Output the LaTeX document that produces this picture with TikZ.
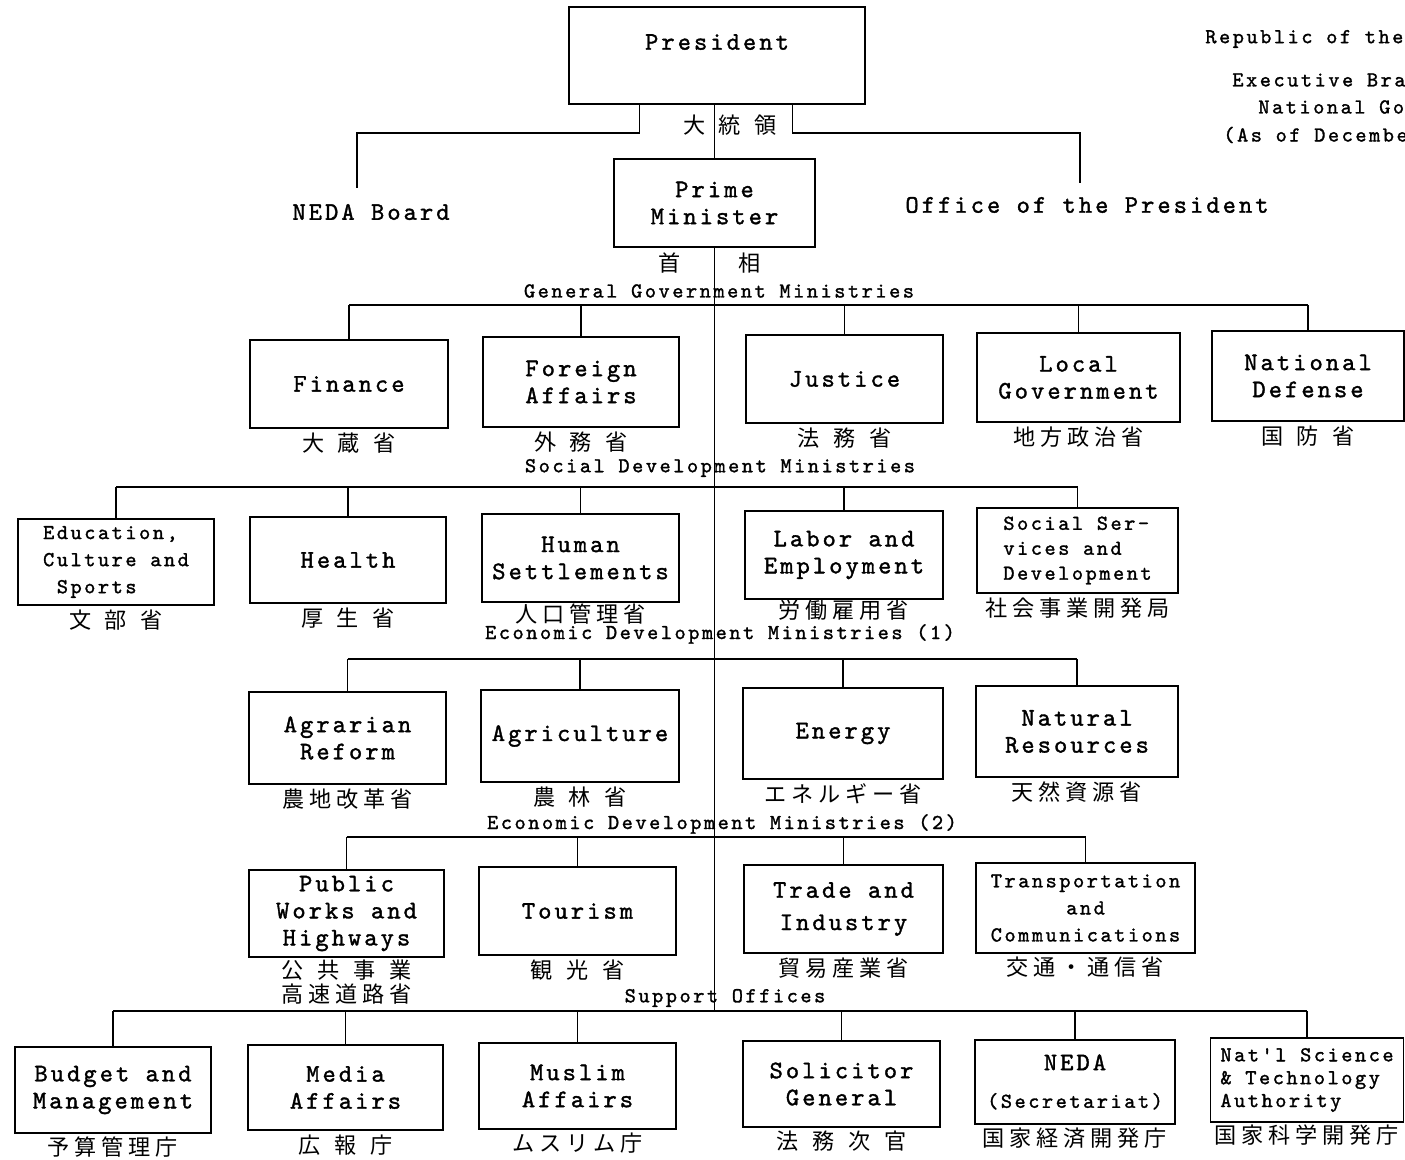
\documentclass[tikz,border=0pt]{standalone}
\usepackage{fontspec}
\usetikzlibrary{positioning, calc}
\newfontfamily\twfont{lmmono10-regular.otf}[LetterSpace=12, FakeBold=1.4]
\newfontfamily\jpfont{Noto Sans CJK JP}[LetterSpace=22]
\newcommand\bigtw{\twfont\fontsize{14.4pt}{15.4pt}\selectfont}
\newcommand\smalltw{\twfont\fontsize{12.1pt}{15.4pt}\selectfont}
\newcommand\jptext{\jpfont\fontsize{12.6pt}{13.6pt}\selectfont}
\newcommand\ksp{\hspace{0.62em}}

\tikzset{
  ministry/.style={draw, line width=1.1pt, inner sep=0pt, align=center, font=\bigtw},
  wh/.style 2 args={minimum width=#1*0.02cm, minimum height=#2*0.02cm},
  kanji/.style={inner sep=0pt, align=center, font=\jptext},
  sectlabel/.style={inner sep=0pt, font=\smalltw},
  link/.style={line width=0.9pt},
}

\begin{document}
\begin{tikzpicture}[x=0.02cm, y=-0.02cm]
\useasboundingbox (0,0) rectangle (1405,1159);
\clip (0,0) rectangle (1405,1159);

%--- Title block (top right, runs off the page)
\node[sectlabel, anchor=west] (rep)  at (1205,39)  {Republic of the};
\node[sectlabel, anchor=west] (exe)  at (1232,80)  {Executive Bra};
\node[sectlabel, anchor=west] (natg) at (1258,107) {National Go};
\node[sectlabel, anchor=west] (asof) at (1223,135) {(As of Decembe};

%--- President and Prime Minister
\node[ministry, wh={296}{97}] (pres) at (717,55.5) {President\\\mbox{}};
\node[kanji] (presj) at (730,125) {大\ksp 統\ksp 領};
\node[ministry, wh={201}{88}] (pm) at (714.5,203) {Prime\\Minister};
\node[kanji] (pmj1) at (670,263) {首};
\node[kanji] (pmj2) at (750,263) {相};

\node[inner sep=0pt, font=\bigtw] (nedab)  at (371,212)  {NEDA Board};
\node[inner sep=0pt, font=\bigtw] (office) at (1087,205) {Office of the President};

\coordinate (nbend) at (357,133);
\coordinate (nend)  at (357,188);
\coordinate (obend) at (1080,133);
\coordinate (oend)  at (1080,183);
\draw[link] ($(pres.south west)!0.24!(pres.south east)$) |- (nbend) -- (nend);
\draw[link] ($(pres.south west)!0.753!(pres.south east)$) |- (obend) -- (oend);

%--- bus lines (y only)
\coordinate (gbus)  at (0,305);
\coordinate (sbus)  at (0,487);
\coordinate (e1bus) at (0,659);
\coordinate (e2bus) at (0,837);
\coordinate (obus)  at (0,1011);

%--- Spine
\draw[link] (pres.south -| pm.north) -- (pm.north);
\draw[link] (pm.south) -- (pm.south |- obus);

%=== GENERAL GOVERNMENT MINISTRIES ===
\node[sectlabel] (ggm) at (719,291) {General Government Ministries};

\node[ministry, wh={198}{88}] (fin)  at (349,384)     {Finance};
\node[ministry, wh={196}{90}] (frn)  at (581,382)     {Foreign\\Affairs};
\node[ministry, wh={197}{88}] (jus)  at (844.5,379)   {Justice};
\node[ministry, wh={203}{89}] (locg) at (1078.5,377.5) {Local\\Government};
\node[ministry, wh={192}{90}] (def)  at (1308,376)    {National\\Defense};

\node[kanji, below=2pt of fin]  (finj)  {大\ksp 蔵\ksp 省};
\node[kanji, below=2pt of frn]  (frnj)  {外\ksp 務\ksp 省};
\node[kanji, below=2pt of jus]  (jusj)  {法\ksp 務\ksp 省};
\node[kanji, below=2pt of locg] (locgj) {地方政治省};
\node[kanji, below=2pt of def]  (defj)  {国\ksp 防\ksp 省};

\draw[link] (fin.north |- gbus) -- (def.north |- gbus);
\foreach \m in {fin,frn,jus,locg,def} {
  \draw[link] (\m.north) -- (\m.north |- gbus);
}

%=== SOCIAL DEVELOPMENT MINISTRIES ===
\node[sectlabel] (sdm) at (720,468) {Social Development Ministries};

\node[ministry, wh={196}{86}, font=\smalltw, align=left] (edu) at (116,562)
  {Education,\\Culture and\\\hspace*{7.8pt}Sports};
\node[ministry, wh={196}{86}] (hea) at (348,560)   {Health};
\node[ministry, wh={197}{88}] (hum) at (580.5,558) {Human\\Settlements};
\node[ministry, wh={198}{88}] (lab) at (844,555)   {Labor and\\Employment};
\node[ministry, wh={201}{85}, font={\twfont\fontsize{12.1pt}{14.2pt}\selectfont}, align=left]
  (ssd) at (1077.5,550.5) {Social Ser-\\vices and\\Development};

\node[kanji, below=2pt of edu] (eduj) {文\ksp 部\ksp 省};
\node[kanji, below=2pt of hea] (heaj) {厚\ksp 生\ksp 省};
\node[kanji, below=0pt of hum] (humj) {人口管理省};
\node[kanji, below=0pt of lab] (labj) {労働雇用省};
\node[kanji, below=2pt of ssd] (ssdj) {社会事業開発局};

\draw[link] (edu.north |- sbus) -- (ssd.north |- sbus);
\foreach \m in {edu,hea,hum,lab,ssd} {
  \draw[link] (\m.north) -- (\m.north |- sbus);
}

%=== ECONOMIC DEVELOPMENT MINISTRIES (1) ===
\node[sectlabel] (edm1) at (720,634) {Economic Development Ministries (1)};

\node[ministry, wh={197}{92}] (agr)  at (347.5,738)  {Agrarian\\Reform};
\node[ministry, wh={198}{92}] (agri) at (580,736)    {Agriculture};
\node[ministry, wh={200}{91}] (ene)  at (843,733.5)  {Energy};
\node[ministry, wh={202}{91}] (natr) at (1077,731.5) {Natural\\Resources};

\node[kanji, below=2pt of agr]  (agrj)  {農地改革省};
\node[kanji, below=2pt of agri] (agrij) {農\ksp 林\ksp 省};
\node[kanji, below=2pt of ene]  (enej)  {エネルギー省};
\node[kanji, below=2pt of natr] (natrj) {天然資源省};

\draw[link] (agr.north |- e1bus) -- (natr.north |- e1bus);
\foreach \m in {agr,agri,ene,natr} {
  \draw[link] (\m.north) -- (\m.north |- e1bus);
}

%=== ECONOMIC DEVELOPMENT MINISTRIES (2) ===
\node[sectlabel] (edm2) at (722,824) {Economic Development Ministries (2)};

\node[ministry, wh={195}{87}] (pwh) at (346.5,913.5) {Public\\Works and\\Highways};
\node[ministry, wh={197}{88}] (tou) at (577.5,911)   {Tourism};
\node[ministry, wh={199}{88}] (tin) at (843.5,909)   {Trade and\\[3pt]Industry};
\node[ministry, wh={219}{90}, font=\smalltw] (trc) at (1085.5,908)
  {Transportation\\and\\Communications};

\node[kanji, below=1pt of pwh] (pwhj) {公\ksp 共\ksp 事\ksp 業\\高速道路省};
\node[kanji, below=2pt of tou] (touj) {観\ksp 光\ksp 省};
\node[kanji, below=2pt of tin] (tinj) {貿易産業省};
\node[kanji, below=1.5pt of trc] (trcj) {交通・通信省};

\draw[link] (pwh.north |- e2bus) -- (trc.north |- e2bus);
\foreach \m in {pwh,tou,tin,trc} {
  \draw[link] (\m.north) -- (\m.north |- e2bus);
}

%=== SUPPORT OFFICES ===
\node[sectlabel] (supo) at (725,998) {Support Offices};

\node[ministry, wh={196}{86}] (bud)  at (113,1090)    {Budget and\\Management};
\node[ministry, wh={195}{85}] (med)  at (345.5,1087.5) {Media\\Affairs};
\node[ministry, wh={197}{86}] (mus)  at (577.5,1086)  {Muslim\\Affairs};
\node[ministry, wh={197}{86}] (sol)  at (841.5,1084)  {Solicitor\\General};
\node[ministry, wh={200}{84}] (neda) at (1075,1082)   {NEDA\\[6pt]{\smalltw (Secretariat)}};
\node[ministry, wh={193}{84}, font={\twfont\fontsize{12.1pt}{13pt}\selectfont}, align=left]
  (nsta) at (1307,1080) {Nat'l Science\\\& Technology\\Authority};

\node[kanji, below=1.5pt of bud]  (budj)  {予算管理庁};
\node[kanji, below=2pt of med]    (medj)  {広\ksp 報\ksp 庁};
\node[kanji, below=1.5pt of mus]  (musj)  {ムスリム庁};
\node[kanji, below=1.5pt of sol]  (solj)  {法\ksp 務\ksp 次\ksp 官};
\node[kanji, below=1.5pt of neda] (nedaj) {国家経済開発庁};
\node[kanji, below=1pt of nsta]   (nstaj) {国家科学開発庁};

\draw[link] (bud.north |- obus) -- (nsta.north |- obus);
\foreach \m in {bud,med,mus,sol,neda,nsta} {
  \draw[link] (\m.north) -- (\m.north |- obus);
}

\end{tikzpicture}
\end{document}
